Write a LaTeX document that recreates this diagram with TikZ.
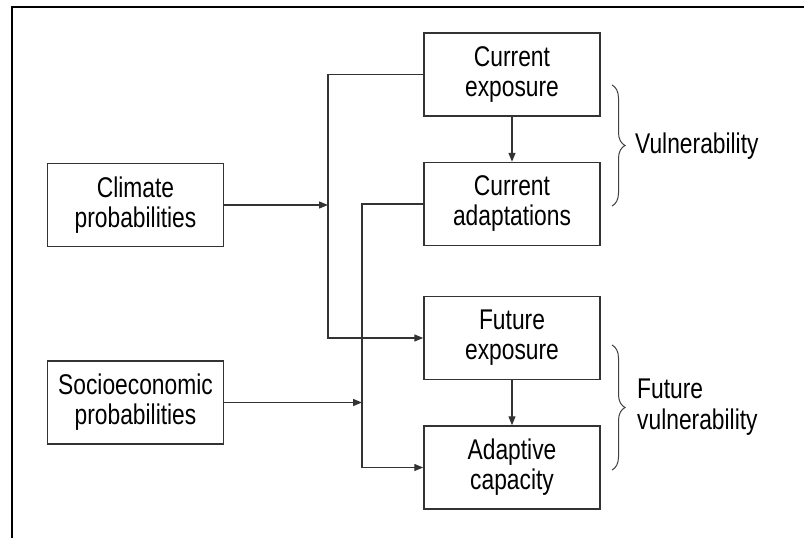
\documentclass[tikz,border=0pt]{standalone}
\usepackage{fontspec}
\setmainfont[FakeStretch=0.8]{Liberation Sans}
\usepackage{tikz}
\usetikzlibrary{arrows.meta, positioning, decorations.pathreplacing}

\begin{document}
\begin{tikzpicture}[
    x=1pt, y=-1pt,
    box/.style={draw=black!80, line width=1.5pt, minimum width=176pt,
                minimum height=83pt, inner sep=0pt, align=center,
                font=\fontsize{28.5}{30}\selectfont},
    arr/.style={-{Triangle[length=9pt,width=7pt]}, line width=1.3pt, draw=black!80},
    brc/.style={decorate, decoration={brace, amplitude=13pt}, line width=1pt, draw=black!75},
    lbl/.style={font=\fontsize{28.5}{31}\selectfont, align=left, anchor=west, inner sep=0pt}
]
\useasboundingbox (0,0) rectangle (804,538);

% Frame
\draw[line width=2.5pt] (12,538) -- (12,7) -- (804,7);

% Driver boxes
\node[box] (clim)  at (135.5,205)   {Climate\\probabilities};
\node[box] (socio) at (135.5,402.5) {Socioeconomic\\probabilities};

% Current boxes
\node[box] (curexp)   at (512,74.5)  {Current\\exposure};
\node[box] (curadapt) at (512,204)   {Current\\adaptations};

% Future boxes
\node[box] (futexp) at (512,338)   {Future\\exposure};
\node[box] (adapt)  at (512,467.5) {Adaptive\\capacity};

% Trunk lines
\coordinate (ja) at (328,250);
\coordinate (jb) at (362,330);

% Arrows
\draw[arr] (curexp.west) -| (ja) |- (futexp.west);
\draw[arr] (curadapt.west) -| (jb) |- (adapt.west);
\draw[arr] (clim.east)  -- (clim.east -| ja);
\draw[arr] (socio.east) -- (socio.east -| jb);
\draw[arr] (curexp)  -- (curadapt);
\draw[arr] (futexp)  -- (adapt);

% Braces
\coordinate (vtop) at (612,85);
\coordinate (vbot) at (612,206);
\coordinate (ftop) at (612,345);
\coordinate (fbot) at (612,470);
\draw[brc] (vtop) -- (vbot);
\draw[brc] (ftop) -- (fbot);

\node[lbl] (vuln)  at (635,146) {Vulnerability};
\node[lbl] (fvuln) at (637,407) {Future\\vulnerability};

\end{tikzpicture}
\end{document}
